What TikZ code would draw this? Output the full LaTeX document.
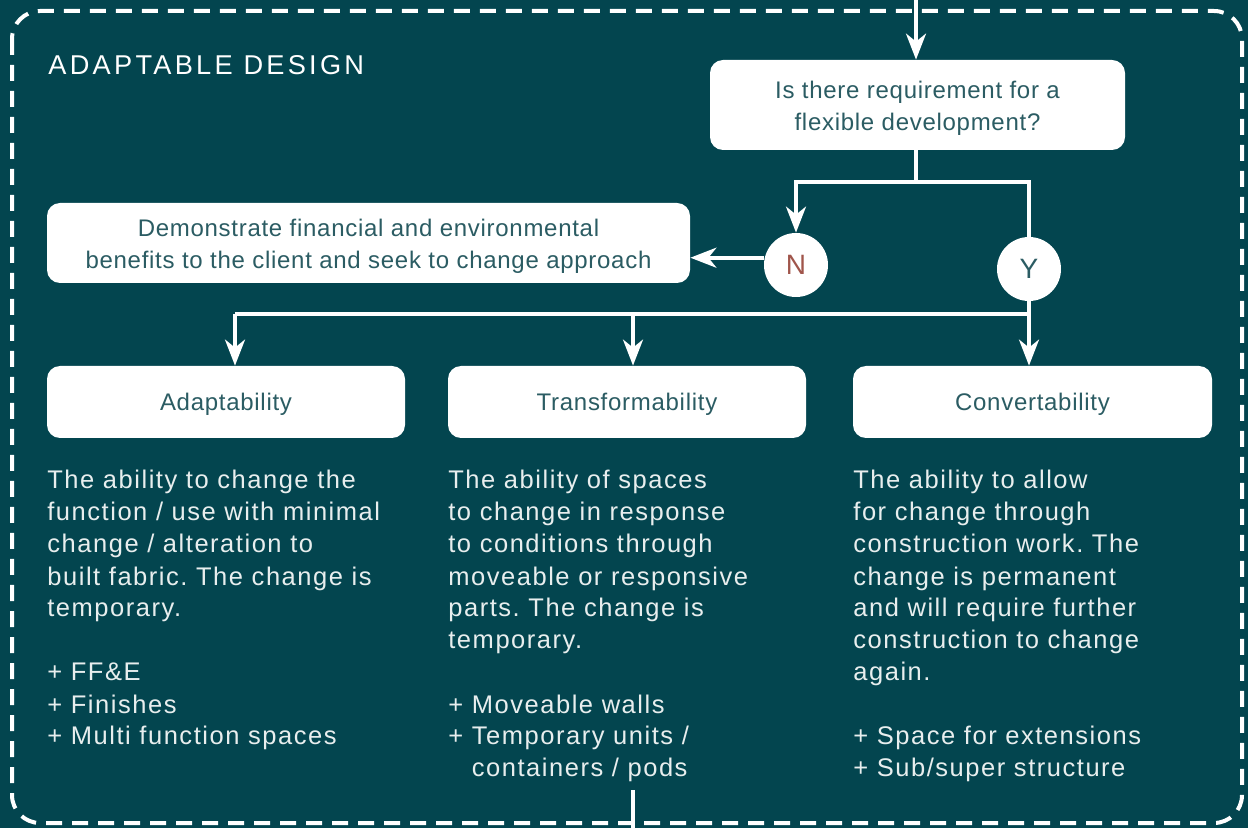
\documentclass[tikz,border=0pt]{standalone}
\usepackage{fontspec}
\setmainfont{Liberation Sans}
\newfontfamily\bodyf[LetterSpace=6]{Liberation Sans}
\newfontfamily\boxf[LetterSpace=3]{Liberation Sans}
\newfontfamily\titlef[LetterSpace=12]{Liberation Sans}
\usetikzlibrary{arrows.meta}
\definecolor{bgcol}{HTML}{03454F}
\definecolor{boxtxt}{HTML}{2B5C63}
\definecolor{ncol}{HTML}{A0554B}
\definecolor{bodytxt}{HTML}{E8EEEE}
\frenchspacing
\newcommand\firststrut{\rule{0pt}{11.8pt}}
\begin{document}
\begin{tikzpicture}[x=0.5pt,y=-0.5pt,
  wbox/.style={fill=white,rounded corners=6.5pt,inner sep=0pt,text=boxtxt,
    font=\boxf\fontsize{12pt}{16pt}\selectfont\frenchspacing,align=center},
  oneline/.style={text height=9pt,text depth=0pt},
  circ/.style={circle,fill=white,minimum size=32pt,inner sep=0pt,
    font=\boxf\fontsize{14pt}{16pt}\selectfont},
  conn/.style={draw=white,line width=1.8pt},
  arr/.style={conn,-{Stealth[length=13pt,width=10pt,inset=4pt]}},
  body/.style={anchor=base west,inner sep=0pt,text=bodytxt,
    font=\bodyf\fontsize{12.75pt}{16pt}\selectfont\frenchspacing}
]
\useasboundingbox (0,0) rectangle (1248,828);
\fill[bgcol] (0,0) rectangle (1248,828);
\draw[white,line width=2pt,dash pattern=on 8pt off 5pt,rounded corners=14pt]
  (12,11) rectangle (1242,823);

\node[anchor=base west,inner sep=0pt,text=white,
  font=\titlef\fontsize{13.6pt}{16pt}\selectfont] (title) at (48,75) {ADAPTABLE DESIGN};

% boxes
\node[wbox,minimum width=207.5pt,minimum height=45pt] (Q) at (917.5,105)
  {\firststrut Is there requirement for a\\flexible development?};
\node[wbox,minimum width=321.5pt,minimum height=40pt] (D) at (368.5,243)
  {\firststrut Demonstrate financial and environmental\\benefits to the client and seek to change approach};
\node[circ,text=ncol] (N) at (796,265) {N};
\node[circ,text=boxtxt] (Y) at (1029,269) {Y};
\node[wbox,oneline,minimum width=179pt,minimum height=36pt] (A) at (226,402) {Adaptability};
\node[wbox,oneline,minimum width=179pt,minimum height=36pt] (T) at (627,402) {Transformability};
\node[wbox,oneline,minimum width=179.5pt,minimum height=36pt] (C) at (1032.5,402) {Convertability};

% body texts
\node[body] (Atext) at (47,489) {\parbox[t]{200pt}{\raggedright
  The ability to change the\\
  function / use with minimal\\
  change / alteration to\\
  built fabric. The change is\\
  temporary.\\[16pt]
  + FF\&E\\
  + Finishes\\
  + Multi function spaces}};
\node[body] (Ttext) at (448,489) {\parbox[t]{200pt}{\raggedright
  The ability of spaces\\
  to change in response\\
  to conditions through\\
  moveable or responsive\\
  parts. The change is\\
  temporary.\\[16pt]
  + Moveable walls\\
  + Temporary units /\\
  \hphantom{+\ }containers / pods}};
\node[body] (Ctext) at (853,489) {\parbox[t]{200pt}{\raggedright
  The ability to allow\\
  for change through\\
  construction work. The\\
  change is permanent\\
  and will require further\\
  construction to change\\
  again.\\[16pt]
  + Space for extensions\\
  + Sub/super structure}};

% connectors
\coordinate (top) at (916,0);
\coordinate (split) at (916,182);
\coordinate (ysplit) at (1029,314);
\coordinate (aTop) at (235,314);
\coordinate (tTop) at (633,314);
\coordinate (b1) at (633,790);
\coordinate (b2) at (633,830);

\draw[arr] (top) -- (top |- Q.north);
\draw[conn] (split |- Q.south) -- (split);
\draw[arr] (split) -| (N.north);
\draw[conn] (split) -| (Y.north);
\draw[arr] (N.167) -- (N.167 -| D.east);
\draw[arr] (Y.south) -- (Y.south |- C.north);
\draw[conn] (ysplit) -- (aTop);
\draw[arr] (aTop) -- (aTop |- A.north);
\draw[arr] (tTop) -- (tTop |- T.north);
\draw[conn] (b1) -- (b2);
\end{tikzpicture}
\end{document}
